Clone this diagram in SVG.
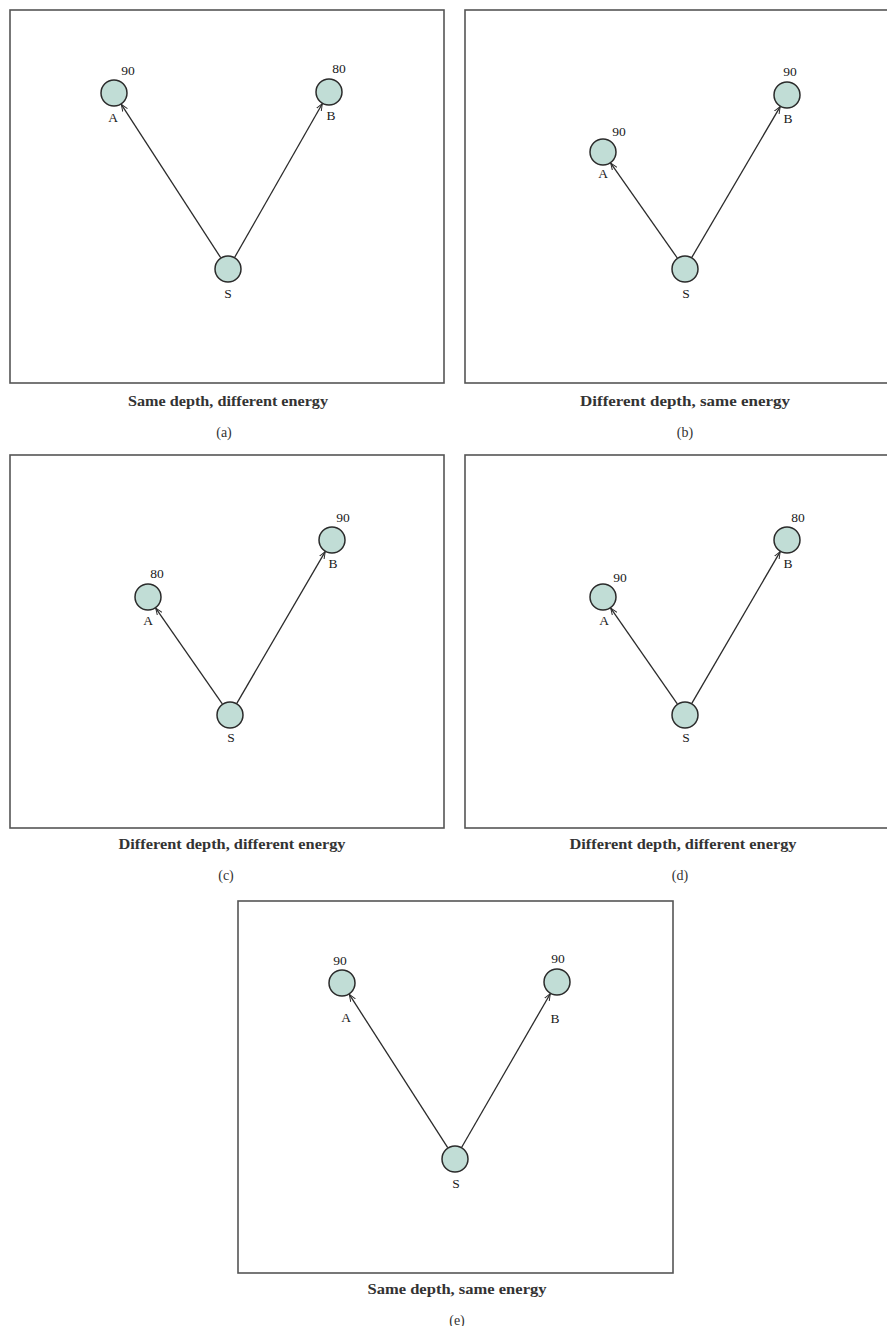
<svg xmlns="http://www.w3.org/2000/svg" width="887" height="1326" viewBox="0 0 887 1326">
  <style>
    .frame { fill: none; stroke: #555; stroke-width: 1.6; }
    .node { fill: #c1ddd6; stroke: #2b2b2b; stroke-width: 1.5; }
    .edge { stroke: #2b2b2b; stroke-width: 1.3; fill: none; marker-end: url(#tip); }
    .lbl { font-family: "Liberation Serif", "DejaVu Serif", serif; font-size: 13.5px; fill: #1a1a1a; text-anchor: middle; }
    .cap { font-family: "Liberation Serif", "DejaVu Serif", serif; font-size: 15px; font-weight: bold; fill: #333; text-anchor: middle; }
    .tag { font-family: "Liberation Serif", "DejaVu Serif", serif; font-size: 14px; fill: #333; text-anchor: middle; }
  </style>
  <defs>
    <marker id="tip" viewBox="0 0 10 10" refX="10" refY="5" markerWidth="7" markerHeight="7" markerUnits="userSpaceOnUse" orient="auto">
      <polyline points="0,1 10,5 0,9" fill="none" stroke="#2b2b2b" stroke-width="1.4"/>
    </marker>
  </defs>
  <rect width="887" height="1326" fill="#fff"/>

  <!-- frames and captions -->
  <g id="frames">
    <rect class="frame" x="10" y="10" width="434" height="373"/>
    <rect class="frame" x="465" y="10" width="440" height="373"/>
    <rect class="frame" x="10" y="455" width="434" height="373"/>
    <rect class="frame" x="465" y="455" width="440" height="373"/>
    <rect class="frame" x="238" y="901" width="435" height="372"/>
  </g>
  <g id="captions">
    <text class="cap" x="228" y="406" textLength="200" lengthAdjust="spacingAndGlyphs">Same depth, different energy</text>
    <text class="tag" x="224" y="437">(a)</text>
    <text class="cap" x="685" y="406" textLength="210" lengthAdjust="spacingAndGlyphs">Different depth, same energy</text>
    <text class="tag" x="685" y="437">(b)</text>
    <text class="cap" x="232" y="849" textLength="227" lengthAdjust="spacingAndGlyphs">Different depth, different energy</text>
    <text class="tag" x="226" y="880">(c)</text>
    <text class="cap" x="683" y="849" textLength="227" lengthAdjust="spacingAndGlyphs">Different depth, different energy</text>
    <text class="tag" x="680" y="880">(d)</text>
    <text class="cap" x="457" y="1294" textLength="179" lengthAdjust="spacingAndGlyphs">Same depth, same energy</text>
    <text class="tag" x="457" y="1325">(e)</text>
  </g>

  <!-- connectors: S to A and S to B in each panel -->
  <g id="connectors">
    <line class="edge" x1="220.7" y1="257.7" x2="121.3" y2="104.3"/>
    <line class="edge" x1="234.7" y1="257.3" x2="322.3" y2="103.7"/>
    <line class="edge" x1="677.3" y1="258.0" x2="610.7" y2="163.1"/>
    <line class="edge" x1="691.8" y1="257.4" x2="780.2" y2="106.6"/>
    <line class="edge" x1="222.3" y1="703.9" x2="155.7" y2="608.1"/>
    <line class="edge" x1="236.8" y1="703.3" x2="325.2" y2="551.7"/>
    <line class="edge" x1="677.3" y1="703.9" x2="610.7" y2="608.1"/>
    <line class="edge" x1="691.8" y1="703.3" x2="780.2" y2="551.7"/>
    <line class="edge" x1="447.7" y1="1147.6" x2="349.3" y2="994.4"/>
    <line class="edge" x1="461.7" y1="1147.3" x2="550.3" y2="993.7"/>
  </g>

  <!-- panel (a) -->
  <g id="a-A"><circle class="node" cx="114" cy="93" r="13"/><text class="lbl" x="128" y="75">90</text><text class="lbl" x="113" y="122">A</text></g>
  <g id="a-B"><circle class="node" cx="329" cy="92" r="13"/><text class="lbl" x="339" y="73">80</text><text class="lbl" x="331" y="120">B</text></g>
  <g id="a-S"><circle class="node" cx="228" cy="269" r="13"/><text class="lbl" x="228" y="298">S</text></g>

  <!-- panel (b) -->
  <g id="b-A"><circle class="node" cx="603" cy="152" r="13"/><text class="lbl" x="619" y="136">90</text><text class="lbl" x="603" y="178">A</text></g>
  <g id="b-B"><circle class="node" cx="787" cy="95" r="13"/><text class="lbl" x="790" y="76">90</text><text class="lbl" x="788" y="123">B</text></g>
  <g id="b-S"><circle class="node" cx="685" cy="269" r="13"/><text class="lbl" x="686" y="298">S</text></g>

  <!-- panel (c) -->
  <g id="c-A"><circle class="node" cx="148" cy="597" r="13"/><text class="lbl" x="157" y="578">80</text><text class="lbl" x="148" y="625">A</text></g>
  <g id="c-B"><circle class="node" cx="332" cy="540" r="13"/><text class="lbl" x="343" y="522">90</text><text class="lbl" x="333" y="568">B</text></g>
  <g id="c-S"><circle class="node" cx="230" cy="715" r="13"/><text class="lbl" x="231" y="742">S</text></g>

  <!-- panel (d) -->
  <g id="d-A"><circle class="node" cx="603" cy="597" r="13"/><text class="lbl" x="620" y="582">90</text><text class="lbl" x="604" y="625">A</text></g>
  <g id="d-B"><circle class="node" cx="787" cy="540" r="13"/><text class="lbl" x="798" y="522">80</text><text class="lbl" x="788" y="568">B</text></g>
  <g id="d-S"><circle class="node" cx="685" cy="715" r="13"/><text class="lbl" x="686" y="742">S</text></g>

  <!-- panel (e) -->
  <g id="e-A"><circle class="node" cx="342" cy="983" r="13"/><text class="lbl" x="340" y="965">90</text><text class="lbl" x="346" y="1022">A</text></g>
  <g id="e-B"><circle class="node" cx="557" cy="982" r="13"/><text class="lbl" x="558" y="963">90</text><text class="lbl" x="555" y="1023">B</text></g>
  <g id="e-S"><circle class="node" cx="455" cy="1159" r="13"/><text class="lbl" x="456" y="1188">S</text></g>
</svg>
